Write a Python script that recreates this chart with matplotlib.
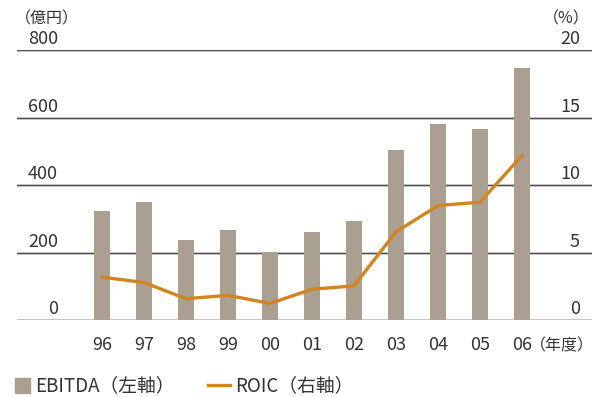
import matplotlib
matplotlib.use("Agg")
import matplotlib.pyplot as plt
from matplotlib.patches import Rectangle
from matplotlib.lines import Line2D

plt.rcParams['font.family'] = ['Noto Sans CJK JP', 'DejaVu Sans']

years = ["96", "97", "98", "99", "00", "01", "02", "03", "04", "05", "06"]
ebitda = [324, 350, 238, 267, 202, 262, 294, 505, 582, 567, 747]      # 億円
roic = [3.2, 2.8, 1.6, 1.85, 1.25, 2.3, 2.55, 6.55, 8.5, 8.75, 12.2]  # %
left_ticks = [0, 200, 400, 600, 800]
right_ticks = [0, 5, 10, 15, 20]

BAR = "#ab9f92"
LINE = "#d2841f"
GRID = "#505050"
TEXT = "#333333"

W, H = 596, 397
fig = plt.figure(figsize=(W / 100, H / 100), dpi=100)
ax = fig.add_axes([17 / W, 1 - 320.3 / H, (592 - 17) / W, (320.3 - 50.3) / H])
ax2 = ax.twinx()

x = list(range(len(years)))
ax.set_xlim((17 - 102) / 42, (592 - 102) / 42)
ax.set_ylim(0, left_ticks[-1])
ax2.set_ylim(0, right_ticks[-1])

for a in (ax, ax2):
    for s in a.spines.values():
        s.set_visible(False)
    a.set_xticks([])
    a.set_yticks([])
    a.patch.set_visible(False)

# horizontal rules: dark line with a faint light line beneath
for v in left_ticks:
    ax.axhline(v, color="#cfcfcf", lw=2.0, zorder=0.5)
    ax.axhline(v, color=GRID, lw=0.9, zorder=1)

ax.bar(x, ebitda, width=16 / 42, color=BAR, zorder=2)
ax2.plot(x, roic, color=LINE, lw=2.4, zorder=3, solid_joinstyle="miter")

fs = 13
fw = "normal"
# left axis labels, sitting on the rules
xl = (58 - 102) / 42
for v in left_ticks:
    ax.annotate(str(v), (xl, v), xytext=(0, 1.5), textcoords="offset points",
                ha="right", va="bottom", fontsize=fs, color=TEXT, fontweight=fw)
xr = (580 - 102) / 42
for v in right_ticks:
    ax2.annotate(str(v), (xr, v), xytext=(0, 1.5), textcoords="offset points",
                 ha="right", va="bottom", fontsize=fs, color=TEXT, fontweight=fw)

# category labels
for i, yr in enumerate(years):
    ax.annotate(yr, (i, 0), xytext=(0, -11), textcoords="offset points",
                ha="center", va="top", fontsize=fs, color=TEXT, fontweight=fw)
ax.annotate("（年度）", (len(years) - 1, 0), xytext=(6, -12), textcoords="offset points",
            ha="left", va="top", fontsize=11.5, color=TEXT, fontweight=fw)

# unit labels
fig.text(15 / W, 1 - 19 / H, "（億円）", ha="left", va="center",
         fontsize=11.5, color=TEXT, fontweight=fw)
fig.text(590 / W, 1 - 19 / H, "（%）", ha="right", va="center",
         fontsize=11.5, color=TEXT, fontweight=fw)

# legend
ly = 1 - 385.5 / H
fig.patches.append(Rectangle((15 / W, 1 - 393 / H), 15 / W, 15 / H,
                             transform=fig.transFigure, color=BAR))
fig.text(35 / W, ly, "EBITDA（左軸）", ha="left", va="center",
         fontsize=13.5, color=TEXT, fontweight=fw)
fig.lines.append(Line2D([208 / W, 230 / W], [1 - 385 / H, 1 - 385 / H],
                        transform=fig.transFigure, color=LINE, lw=2.4))
fig.text(235 / W, ly, "ROIC（右軸）", ha="left", va="center",
         fontsize=13.5, color=TEXT, fontweight=fw)

fig.savefig("out.png", dpi=100)
